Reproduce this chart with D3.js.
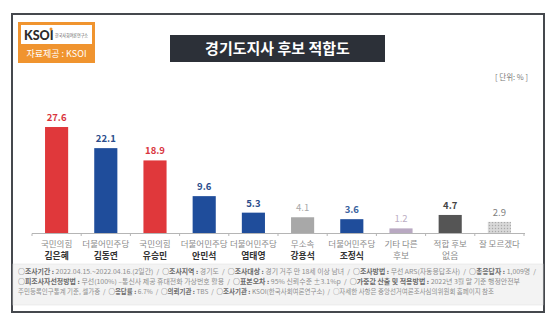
<!DOCTYPE html>
<html><head><meta charset="utf-8">
<script src="https://cdn.jsdelivr.net/npm/d3@7"></script>
<style>
html,body{margin:0;padding:0;background:#fff;}
svg{display:block;font-family:"Noto Sans CJK KR","Noto Sans",sans-serif;}
</style></head>
<body><svg id="c" width="550" height="324"></svg>
<script>
const parties = ["국민의힘","더불어민주당","국민의힘","더불어민주당","더불어민주당","무소속","더불어민주당","기타 다른","적합 후보","잘 모르겠다"];
const candidates = ["김은혜","김동연","유승민","안민석","염태영","강용석","조정식","후보","없음",""];
const values = [27.6,22.1,18.9,9.6,5.3,4.1,3.6,1.2,4.7,2.9];
const titleText = "경기도지사 후보 적합도";
const unitText = "[ 단위: % ]";
const footerLines = [
  [["○조사기간 : ",1],["2022.04.15.~2022.04.16.(2일간)  /  ",0],["○조사지역 : ",1],["경기도  /  ",0],["○조사대상 : ",1],["경기 거주 만 18세 이상 남녀  /  ",0],["○조사방법 : ",1],["무선 ARS(자동응답조사)  /  ",0],["○총응답자 : ",1],["1,009명  /",0]],
  [["○피조사자선정방법 : ",1],["무선(100%) –통신사 제공 휴대전화 가상번호 활용  /  ",0],["○표본오차 : ",1],["95% 신뢰수준 ±3.1%p  /  ",0],["○가중값 산출 및 적용방법 : ",1],["2022년 3월 말 기준 행정안전부",0]],
  [["주민등록인구통계 기준, 셀가중  /  ",0],["○응답률 : ",1],["6.7%  /  ",0],["○의뢰기관 : ",1],["TBS  /  ",0],["○조사기관 : ",1],["KSOI(한국사회여론연구소)  /  ",0],["○자세한 사항은 중앙선거여론조사심의위원회 홈페이지 참조",0]]
];
// styles (separate from data)
const barColors = ["#e0383b","#1f4d9b","#e0383b","#1f4d9b","#1f4d9b","#a8a8a8","#1f4d9b","#b9a9c2","#555555","url(#dots)"];
const labelColors = ["#d9363e","#2b4d8c","#d9363e","#2b4d8c","#2b4d8c","#a8a8a8","#3a63a0","#bcaec4","#444444","#808080"];
const labelBold = [1,1,1,1,1,0,1,0,1,0];
const nameBold = [1,1,1,1,1,1,1,0,0,0];

const svg = d3.select("#c");
const defs = svg.append("defs");
const pat = defs.append("pattern").attr("id","dots").attr("patternUnits","userSpaceOnUse").attr("width",3).attr("height",3);
pat.append("rect").attr("width",3).attr("height",3).attr("fill","#d2d2d2");
pat.append("rect").attr("x",0).attr("y",0).attr("width",1).attr("height",1).attr("fill","#a9a9a9");
pat.append("rect").attr("x",1.5).attr("y",1.5).attr("width",1).attr("height",1).attr("fill","#ececec");

// outer frame
svg.append("rect").attr("x",12).attr("y",14).attr("width",532).attr("height",298)
  .attr("fill","#fff").attr("stroke","#45484d").attr("stroke-width",2);
// footer box
svg.append("rect").attr("x",13).attr("y",264).attr("width",530).attr("height",41)
  .attr("fill","#f3f3f3").attr("stroke","#e4e4e4").attr("stroke-width",0.6);

// logo
svg.append("rect").attr("x",18).attr("y",22).attr("width",77).attr("height",41).attr("fill","#f0942f");
svg.append("rect").attr("x",21).attr("y",25).attr("width",71).attr("height",19).attr("fill","#fff");
svg.append("text").attr("x",24).attr("y",39.5).attr("font-size",12.5).attr("font-weight",900)
  .attr("fill","#2b2b2b").attr("font-family","Lato, 'DejaVu Sans', sans-serif").text("KSOI");
svg.append("circle").attr("cx",51).attr("cy",29).attr("r",1.5).attr("fill","#f0942f");
svg.append("text").attr("x",55).attr("y",36.5).attr("font-size",4.5).attr("fill","#555")
  .attr("textLength",33).attr("lengthAdjust","spacingAndGlyphs").text("한국사회여론연구소");
svg.append("text").attr("x",56.5).attr("y",57).attr("text-anchor","middle").attr("font-size",9)
  .attr("fill","#fff").text("자료제공 : KSOI");

// title
svg.append("rect").attr("x",170).attr("y",35).attr("width",215).attr("height",27).attr("fill","#2c3038");
svg.append("text").attr("x",277.5).attr("y",54).attr("text-anchor","middle").attr("font-size",15)
  .attr("font-weight",700).attr("fill","#fff").text(titleText);
svg.append("text").attr("x",528).attr("y",80).attr("text-anchor","end").attr("font-size",7.5)
  .attr("fill","#777").text(unitText);

// scales
const x = d3.scaleBand().domain(d3.range(values.length)).range([32,524]).paddingInner(0.53).paddingOuter(0.265);
const y = d3.scaleLinear().domain([0,30]).range([233,117.8]);

const g = svg.append("g");
g.selectAll("rect.bar").data(values).join("rect").attr("class","bar")
  .attr("x",(d,i)=>x(i)).attr("width",x.bandwidth())
  .attr("y",d=>y(d)).attr("height",d=>y(0)-y(d))
  .attr("fill",(d,i)=>barColors[i]);
g.selectAll("text.val").data(values).join("text").attr("class","val")
  .attr("x",(d,i)=>x(i)+x.bandwidth()/2).attr("y",d=>y(d)-6)
  .attr("text-anchor","middle").attr("font-size",9.5)
  .attr("font-weight",(d,i)=>labelBold[i]?700:400)
  .attr("fill",(d,i)=>labelColors[i]).text(d=>d.toFixed(1));

// axis
const step = x.step();
svg.append("line").attr("x1",32).attr("x2",525).attr("y1",233.5).attr("y2",233.5).attr("stroke","#b5b5b5").attr("stroke-width",1);
svg.selectAll("line.tk").data(d3.range(values.length+1)).join("line").attr("class","tk")
  .attr("x1",i=>32+i*step).attr("x2",i=>32+i*step).attr("y1",233.5).attr("y2",236)
  .attr("stroke","#b5b5b5");

// category labels
const cx = i=>x(i)+x.bandwidth()/2;
svg.selectAll("text.party").data(parties).join("text").attr("class","party")
  .attr("x",(d,i)=>cx(i)).attr("y",246.5).attr("text-anchor","middle").attr("font-size",8.5)
  .attr("fill","#8a8a8a").text(d=>d);
svg.selectAll("text.cand").data(candidates).join("text").attr("class","cand")
  .attr("x",(d,i)=>cx(i)).attr("y",258.5).attr("text-anchor","middle").attr("font-size",8.8)
  .attr("font-weight",(d,i)=>nameBold[i]?700:400)
  .attr("fill",(d,i)=>nameBold[i]?"#333":"#8a8a8a").text(d=>d);

// footer
const fy = [274,284,294];
const fLen = [518,502,476];
footerLines.forEach((line,li)=>{
  const t = svg.append("text").attr("x",18).attr("y",fy[li]).attr("font-size",6.3).attr("fill","#8e8e8e")
    .attr("textLength",fLen[li]).attr("lengthAdjust","spacingAndGlyphs").attr("xml:space","preserve");
  line.forEach(([s,b])=>{
    t.append("tspan").attr("font-weight",b?700:400).attr("fill",b?"#6a6a6a":"#8e8e8e").text(s);
  });
});
</script></body></html>
